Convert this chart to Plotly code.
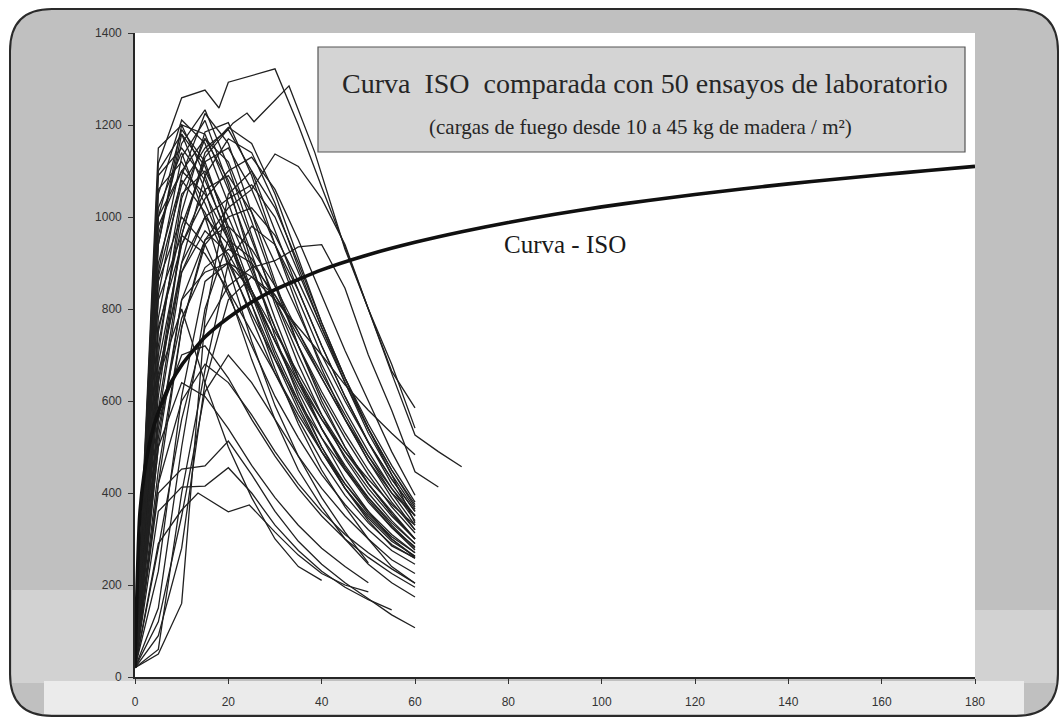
import plotly.graph_objects as go

# ---------------------------------------------------------------- data
# Standard ISO fire curve (minutes, degC)
ISO_TIME = [0, 1, 2, 3, 4, 5, 7.5, 10, 15, 20, 25, 30, 40, 50, 60, 70, 80, 90,
            100, 110, 120, 130, 140, 150, 160, 170, 180]
ISO_TEMP = [20, 349, 444, 502, 544, 576, 636, 678, 739, 781, 815, 842, 885, 918,
            945, 968, 988, 1006, 1022, 1036, 1049, 1061, 1072, 1082, 1092, 1101, 1110]

# Laboratory tests sampled every 5 minutes (0, 5, 10, ...); a list ends when the test ended
SAMPLE_TIME = [0, 5, 10, 15, 20, 25, 30, 35, 40, 45, 50, 55, 60, 65, 70]

FAST_TESTS = [
    [20, 1050, 1211, 1160, 1030, 890, 760, 640, 540, 455, 385, 325, 276],
    [20, 960, 1160, 1233, 1110, 960, 810, 680, 570, 475, 400, 340, 290],
    [20, 830, 1090, 1225, 1160, 1010, 860, 720, 600, 500, 420, 355, 300],
    [20, 1000, 1190, 1120, 970, 810, 670, 550, 450, 370, 300, 240, 204],
    [20, 1100, 1180, 1060, 890, 730, 590, 480, 390, 315, 248],
    [20, 720, 1010, 1185, 1205, 1090, 940, 800, 670, 560, 470, 400, 352],
    [20, 610, 960, 1140, 1195, 1160, 1050, 910, 770, 650, 540, 450, 370],
    [20, 880, 1130, 1210, 1070, 900, 740, 610, 500, 410, 340, 285, 259],
    [20, 1020, 1140, 1000, 840, 690, 560, 450, 370, 300, 245, 205, 174],
    [20, 1090, 1150, 1080, 960, 830, 700, 590, 490, 410, 345, 295, 263],
    [20, 700, 1040, 1170, 1120, 990, 850, 720, 610, 520, 440, 370, 313],
    [20, 940, 1200, 1180, 1060, 920, 780, 650, 540, 450, 380, 325, 283],
    [20, 1150, 1200, 1090, 950, 810, 690, 580, 490, 410, 350, 300, 262],
    [20, 1000, 1100, 1170, 1080, 950, 820, 700, 590, 500, 420, 355, 300],
    [20, 870, 1070, 1150, 1190, 1100, 970, 840, 720, 610, 510, 430, 360],
    [20, 1060, 1120, 1030, 910, 780, 660, 560, 470, 395, 335, 288, 258],
    [20, 940, 1180, 1110, 980, 840, 710, 600, 500, 420, 355, 305, 270],
]

MID_TESTS = [
    [20, 780, 1050, 1100, 1000, 880, 760, 650, 560, 480, 410, 350, 300],
    [20, 680, 940, 1060, 1090, 1010, 900, 790, 680, 580, 490, 410, 340],
    [20, 560, 880, 1000, 1040, 1070, 1000, 880, 760, 650, 550, 460, 380],
    [20, 900, 1080, 1010, 900, 790, 690, 600, 520, 450, 390, 335, 290],
    [20, 750, 980, 1120, 1150, 1060, 940, 820, 700, 600, 510, 430, 360],
    [20, 450, 760, 940, 1000, 1020, 960, 860, 750, 640, 540, 450, 375],
    [20, 980, 1100, 1050, 950, 840, 730, 620, 520, 430, 360, 300, 260],
    [20, 640, 900, 1000, 940, 840, 730, 630, 540, 460, 390, 330, 280],
    [20, 820, 960, 920, 840, 750, 660, 570, 490, 420, 360, 310, 270],
    [20, 520, 820, 950, 980, 930, 850, 750, 650, 560, 470, 390, 320],
    [20, 580, 900, 1090, 1170, 1140, 1030, 890, 760, 640, 530, 440, 365],
    [20, 860, 1000, 940, 830, 720, 610, 520, 440, 375, 320, 275, 245],
    [20, 760, 940, 1040, 1100, 1130, 1060, 950, 830, 710, 600, 490, 395],
    [20, 660, 880, 970, 920, 830, 730, 640, 560, 490, 430, 375, 330],
    [20, 540, 780, 890, 930, 900, 830, 740, 650, 560, 480, 410, 350],
]

SLOW_TESTS = [
    [20, 50, 160, 780, 1050, 1100, 1020, 900, 770, 650, 540, 440, 335],
    [20, 60, 400, 667, 900, 980, 940, 840, 720, 610, 510, 420, 350],
    [20, 90, 280, 640, 820, 870, 830, 750, 660, 570, 480, 400, 330],
    [20, 150, 500, 800, 950, 910, 820, 720, 620, 530, 450, 380, 320],
    [20, 230, 610, 860, 900, 840, 750, 660, 570, 490, 420, 360, 300],
]

LOW_TESTS = [
    [20, 400, 452, 459, 513, 440, 360, 295, 245, 205, 170, 135, 107],
    [20, 360, 413, 415, 455, 400, 330, 275, 230, 195, 168, 146],
    [20, 650, 800, 640, 500, 390, 300, 240, 210],
    [20, 120, 350, 620, 700, 640, 560, 480, 410, 350, 300, 255, 225],
    [20, 500, 640, 610, 540, 460, 390, 330, 280, 240, 205],
    [20, 560, 700, 720, 650, 560, 480, 410, 350, 300, 260, 225, 195],
    [20, 420, 600, 680, 640, 570, 490, 420, 360, 310, 270, 235, 204],
]

LATE_TESTS = [
    [20, 420, 760, 950, 1020, 1060, 1137, 1110, 1040, 940, 800, 660, 526, 490, 457],
    [20, 280, 560, 760, 850, 890, 905, 935, 940, 845, 700, 580, 446, 413],
    [20, 500, 820, 880, 900, 870, 820, 760, 700, 635, 580, 530, 483],
]

# Tests recorded at irregular instants
IRREGULAR_TIME_1 = [0, 5, 10, 15, 18, 20, 30, 35, 40, 45, 50, 55, 60]
IRREGULAR_TEMP_1 = [20, 1117, 1259, 1276, 1237, 1293, 1322, 1200, 1065, 935, 800, 665, 585]
IRREGULAR_TIME_2 = [0, 5, 10, 15, 21, 24, 25.5, 33, 38.5, 45, 50, 55, 60]
IRREGULAR_TEMP_2 = [20, 640, 960, 1130, 1204, 1226, 1207, 1285, 1141, 930, 800, 680, 541]
IRREGULAR_TIME_3 = [0, 5, 10, 13.5, 20, 24.5, 30, 35, 40, 45, 50]
IRREGULAR_TEMP_3 = [20, 290, 363, 400, 359, 374, 315, 265, 225, 200, 185]

X_TICKS = [0, 20, 40, 60, 80, 100, 120, 140, 160, 180]
Y_TICKS = [0, 200, 400, 600, 800, 1000, 1200, 1400]

TITLE_LINE_1 = "Curva\u00a0 ISO\u00a0 comparada con 50 ensayos de laboratorio"
TITLE_LINE_2 = "(cargas de fuego desde 10 a 45 kg de madera / m²)"
ISO_LABEL = "Curva - ISO"

# ---------------------------------------------------------------- layout geometry (pixels)
W, H = 1063, 722
PL, PR, PT, PB = 135, 975, 33, 677


def px(x):
    return (x - PL) / (PR - PL)


def py(y):
    return (PB - y) / (PB - PT)


def rounded_path(x0, y0, x1, y1, r):
    pts = [
        ("M", [(x0 + r, y0)]),
        ("L", [(x1 - r, y0)]),
        ("Q", [(x1, y0), (x1, y0 + r)]),
        ("L", [(x1, y1 - r)]),
        ("Q", [(x1, y1), (x1 - r, y1)]),
        ("L", [(x0 + r, y1)]),
        ("Q", [(x0, y1), (x0, y1 - r)]),
        ("L", [(x0, y0 + r)]),
        ("Q", [(x0, y0), (x0 + r, y0)]),
    ]
    parts = []
    for cmd, coords in pts:
        parts.append(cmd + " " + " ".join(f"{px(a):.5f},{py(b):.5f}" for a, b in coords))
    return " ".join(parts) + " Z"


fig = go.Figure()

line_style = dict(color="#202020", width=1.3)


def add_test(times, temps):
    fig.add_trace(go.Scatter(x=times, y=temps, mode="lines", line=line_style,
                             hoverinfo="skip", showlegend=False))


for group in (FAST_TESTS, MID_TESTS, SLOW_TESTS, LOW_TESTS, LATE_TESTS):
    for temps in group:
        add_test(SAMPLE_TIME[:len(temps)], temps)

add_test(IRREGULAR_TIME_1, IRREGULAR_TEMP_1)
add_test(IRREGULAR_TIME_2, IRREGULAR_TEMP_2)
add_test(IRREGULAR_TIME_3, IRREGULAR_TEMP_3)

# ISO curve drawn last, thick
fig.add_trace(go.Scatter(x=ISO_TIME, y=ISO_TEMP, mode="lines",
                         line=dict(color="#101010", width=3.6, shape="spline", smoothing=0.6),
                         hoverinfo="skip", showlegend=False))

shapes = [
    # textured frame of the slide
    dict(type="path", path=rounded_path(10, 9, 1058, 716, 42), xref="paper", yref="paper",
         fillcolor="#c0c0c0", line=dict(color="#2a2a2a", width=2), layer="below"),
    # lighter lower part of the frame
    dict(type="rect", xref="paper", yref="paper", x0=px(12), x1=px(PL), y0=py(683), y1=py(590),
         fillcolor="#d2d2d2", line=dict(width=0), layer="below"),
    dict(type="rect", xref="paper", yref="paper", x0=px(PR), x1=px(1056), y0=py(683), y1=py(610),
         fillcolor="#d2d2d2", line=dict(width=0), layer="below"),
    dict(type="rect", xref="paper", yref="paper", x0=px(44), x1=px(1024), y0=py(714), y1=py(681),
         fillcolor="#ebebeb", line=dict(width=0), layer="below"),
    # plotting area
    dict(type="rect", xref="paper", yref="paper", x0=0, x1=1, y0=0, y1=1,
         fillcolor="white", line=dict(width=0), layer="below"),
    # title box
    dict(type="rect", xref="paper", yref="paper", x0=px(318), x1=px(965), y0=py(152), y1=py(47),
         fillcolor="#d4d4d4", line=dict(color="#555555", width=1.2), layer="below"),
]

annotations = [
    dict(text=TITLE_LINE_1, xref="paper", yref="paper", x=px(645), y=py(84), showarrow=False,
         font=dict(family="Liberation Serif", size=28, color="#262626"), xanchor="center", yanchor="middle"),
    dict(text=TITLE_LINE_2, xref="paper", yref="paper", x=px(640), y=py(127), showarrow=False,
         font=dict(family="Liberation Serif", size=21, color="#262626"), xanchor="center", yanchor="middle"),
    dict(text=ISO_LABEL, xref="paper", yref="paper", x=px(565), y=py(244), showarrow=False,
         font=dict(family="Liberation Serif", size=25, color="#1a1a1a"), xanchor="center", yanchor="middle"),
]

axis_common = dict(showgrid=False, zeroline=False, showline=True, linecolor="#262626", linewidth=1.6,
                   ticks="outside", ticklen=5, tickwidth=1.2, tickcolor="#333333",
                   tickfont=dict(family="Liberation Sans", size=12, color="#333333"))

fig.update_layout(
    width=W, height=H,
    margin=dict(l=PL, r=W - PR, t=PT, b=H - PB, pad=0),
    paper_bgcolor="white",
    plot_bgcolor="rgba(0,0,0,0)",
    shapes=shapes,
    annotations=annotations,
    hovermode=False,
    xaxis=dict(range=[0, 180], tickvals=X_TICKS, ticklabelstandoff=8, **axis_common),
    yaxis=dict(range=[0, 1400], tickvals=Y_TICKS, ticklabelstandoff=4, **axis_common),
)

fig.write_html("out.html")
